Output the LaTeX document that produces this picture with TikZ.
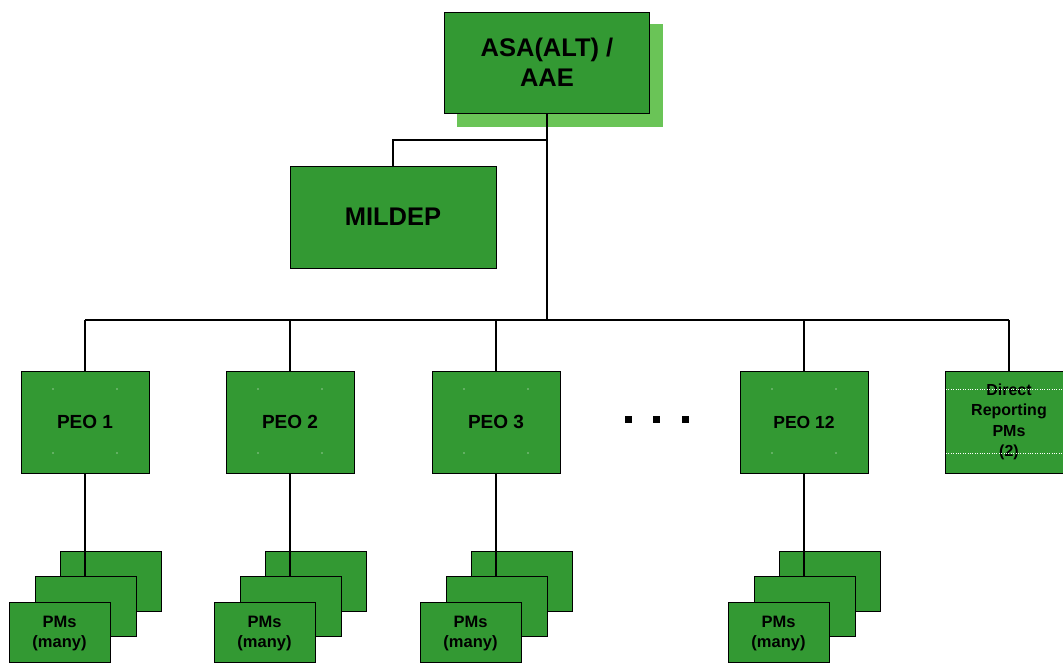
\documentclass[tikz,border=0pt]{standalone}
\usepackage{fontspec}
\setmainfont{Liberation Sans}
\usetikzlibrary{calc}
\definecolor{boxgreen}{RGB}{51,153,51}
\definecolor{shadowgreen}{RGB}{106,196,87}
\tikzset{
  orgbox/.style={draw=black, line width=1pt, fill=boxgreen, inner sep=0pt,
                 align=center, text=black},
  topbox/.style={orgbox, minimum width=205pt, minimum height=101pt,
                 font=\fontsize{25.5}{30}\selectfont\bfseries},
  peobox/.style={orgbox, minimum width=128pt, minimum height=102pt,
                 font=\fontsize{19}{22}\selectfont\bfseries},
  pmbox/.style={orgbox, minimum width=101pt, minimum height=60pt,
                font=\fontsize{16.5}{20}\selectfont\bfseries},
  wire/.style={draw=black, line width=1.3pt},
  framedot/.style={fill=white, inner sep=0pt, minimum size=1.2pt, circle},
  frameline/.style={draw=white, line width=0.5pt, dash pattern=on 0.8pt off 1.6pt}
}
\begin{document}
\begin{tikzpicture}[x=1pt, y=-1pt]
  \clip (0,0) rectangle (1063,662);
  \fill[white] (0,0) rectangle (1063,662);

  % top office with its drop shadow
  \fill[shadowgreen] (457,24) rectangle (663,127);
  \node[topbox] (asa) at (547,62.5) {ASA(ALT) /\\AAE};

  % staff element
  \node[topbox, minimum width=206pt, minimum height=102pt] (mildep) at (393,217) {MILDEP};

  % program executive offices
  \node[peobox] (peo1)  at (85,422)  {PEO 1};
  \node[peobox] (peo2)  at (290,422) {PEO 2};
  \node[peobox] (peo3)  at (496,422) {PEO 3};
  \node[peobox, font=\fontsize{17.5}{20}\selectfont\bfseries] (peo12) at (804,422) {PEO 12};
  \node[peobox, font=\fontsize{16}{20.5}\selectfont\bfseries] (direct) at (1009,422)
       {Direct\\Reporting\\PMs\\(2)};

  % text-frame marks inside the boxes
  \foreach \p in {peo1,peo2,peo3,peo12}{
    \foreach \dx/\dy in {-32/-33, 32/-33, -32/31, 32/31}{
      \node[framedot] at ($(\p.center)+(\dx,\dy)$) {};
    }
  }
  \draw[frameline] (946,389) -- (1063,389);
  \draw[frameline] (946,453) -- (1063,453);

  % ellipsis between PEO 3 and PEO 12
  \fill[black] (625,416) rectangle (632,423);
  \fill[black] (653,416) rectangle (660,423);
  \fill[black] (682,416) rectangle (689,423);

  % main trunk, staff branch and distribution bus
  \coordinate (tap) at (547,140);
  \coordinate (hub) at (547,320);
  \draw[wire] (asa.south) -- (hub);
  \draw[wire] (tap) -| (mildep.north);
  \draw[wire] (peo1.north |- hub) -- (direct.north |- hub);
  \foreach \p in {peo1,peo2,peo3,peo12,direct}{
    \draw[wire] (\p.north) -- (\p.north |- hub);
  }

  % stacked program managers under each PEO
  \foreach \n/\x in {1/85, 2/290, 3/496, 12/804}{
    \node[pmbox] (pmback\n)  at (\x+25.5,581) {};
    \node[pmbox] (pmmid\n)   at (\x+0.5,606)  {};
    \node[pmbox] (pmfront\n) at (\x-25.5,632) {\rule{0pt}{15pt}PMs\\(many)};
    \draw[wire] (peo\n.south) -- (peo\n.south |- pmmid\n.north);
  }
\end{tikzpicture}
\end{document}
